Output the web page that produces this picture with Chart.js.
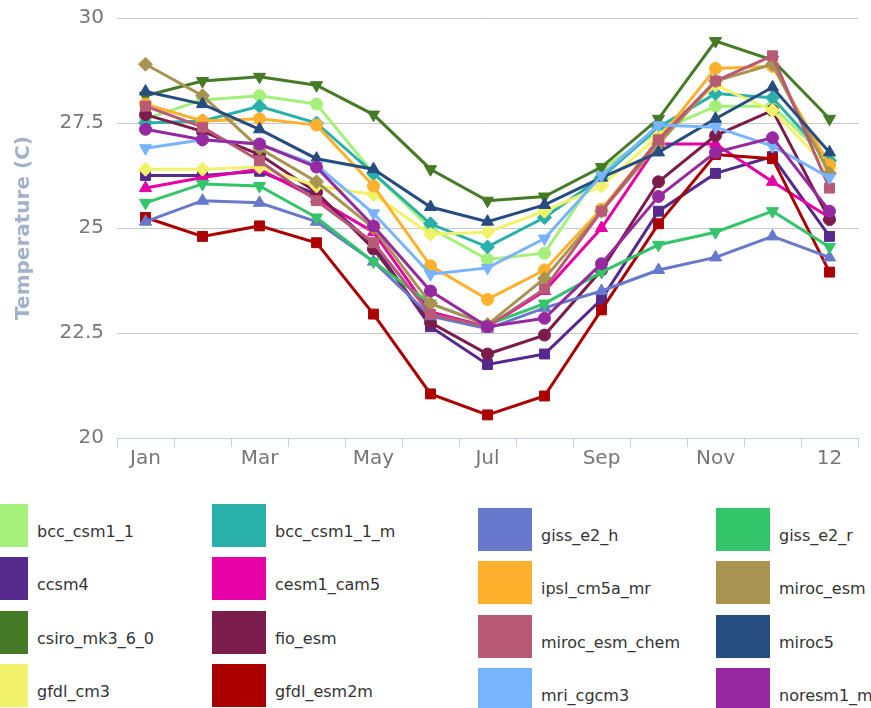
<!DOCTYPE html>
<html>
<head>
<meta charset="utf-8">
<script src="https://cdn.jsdelivr.net/npm/chart.js@4"></script>
<style>
  body { margin: 0; background: #fff; width: 871px; height: 708px; overflow: hidden; position: relative; font-family: "DejaVu Sans", Verdana, sans-serif; }
  #wrap { position: absolute; left: 0; top: 0; width: 871px; height: 490px; }
  .item { position: absolute; height: 43px; }
  .item .sw { position: absolute; left: 0; top: 0; width: 54px; height: 43px; }
  .item .tx { position: absolute; left: 63px; top: 18px; font-size: 16px; color: #333; white-space: nowrap; }
</style>
</head>
<body>
<div id="wrap"><canvas id="chart" width="871" height="490"></canvas></div>
<div id="legend"></div>
<script>
// Categories (13th point is labelled "12" in the source chart)
const months = ["Jan", "Feb", "Mar", "Apr", "May", "Jun", "Jul", "Aug", "Sep", "Oct", "Nov", "Dec", "12"];
const yTicks = [20, 22.5, 25, 27.5, 30];

const seriesNames = [
  "bcc_csm1_1", "bcc_csm1_1_m", "ccsm4", "cesm1_cam5",
  "csiro_mk3_6_0", "fio_esm", "gfdl_cm3", "gfdl_esm2m",
  "giss_e2_h", "giss_e2_r", "ipsl_cm5a_mr", "miroc_esm",
  "miroc_esm_chem", "miroc5", "mri_cgcm3", "noresm1_m"
];
const seriesColors = [
  "#a4f07a", "#2ab0aa", "#562a8c", "#e600a6",
  "#467a26", "#7c1c4c", "#f2f26a", "#aa0000",
  "#6878cc", "#34c46a", "#ffb02c", "#a89450",
  "#b85a76", "#264c80", "#78b4ff", "#9628a0"
];

// Temperature (C) per model
const bcc_csm1_1     = [27.6, 28.05, 28.15, 27.95, 26.3, 25.0, 24.25, 24.4, 26.4, 27.3, 27.9, 27.9, 26.6];
const bcc_csm1_1_m   = [27.5, 27.55, 27.9, 27.5, 26.3, 25.1, 24.55, 25.25, 26.2, 27.4, 28.2, 28.1, 26.6];
const ccsm4          = [26.25, 26.25, 26.35, 25.8, 24.6, 22.65, 21.75, 22.0, 23.3, 25.4, 26.3, 26.7, 24.8];
const cesm1_cam5     = [25.95, 26.2, 26.4, 25.7, 24.9, 23.0, 22.65, 23.5, 25.0, 27.0, 27.0, 26.1, 25.25];
const csiro_mk3_6_0  = [28.15, 28.5, 28.6, 28.4, 27.7, 26.4, 25.65, 25.75, 26.45, 27.6, 29.45, 29.0, 27.6];
const fio_esm        = [27.7, 27.3, 26.75, 25.85, 24.5, 22.75, 22.0, 22.45, 24.0, 26.1, 27.2, 27.8, 25.2];
const gfdl_cm3       = [26.4, 26.4, 26.45, 26.0, 25.8, 24.85, 24.9, 25.4, 26.0, 27.2, 28.4, 27.8, 26.4];
const gfdl_esm2m     = [25.25, 24.8, 25.05, 24.65, 22.95, 21.05, 20.55, 21.0, 23.05, 25.1, 26.75, 26.65, 23.95];
const giss_e2_h      = [25.15, 25.65, 25.6, 25.15, 24.2, 22.9, 22.6, 23.1, 23.5, 24.0, 24.3, 24.8, 24.3];
const giss_e2_r      = [25.6, 26.05, 26.0, 25.25, 24.2, 23.2, 22.7, 23.2, 23.95, 24.6, 24.9, 25.4, 24.55];
const ipsl_cm5a_mr   = [27.95, 27.55, 27.6, 27.45, 26.0, 24.1, 23.3, 24.0, 25.45, 27.1, 28.8, 28.85, 26.5];
const miroc_esm      = [28.9, 28.15, 26.9, 26.1, 25.0, 23.2, 22.7, 23.8, 25.4, 27.0, 28.5, 28.9, 26.3];
const miroc_esm_chem = [27.9, 27.4, 26.6, 25.65, 24.65, 22.95, 22.65, 23.55, 25.4, 27.1, 28.5, 29.1, 25.95];
const miroc5         = [28.25, 27.95, 27.35, 26.65, 26.4, 25.5, 25.15, 25.55, 26.2, 26.8, 27.6, 28.35, 26.8];
const mri_cgcm3      = [26.9, 27.1, 27.0, 26.5, 25.35, 23.9, 24.05, 24.75, 26.25, 27.45, 27.4, 26.95, 26.2];
const noresm1_m      = [27.35, 27.1, 27.0, 26.45, 25.05, 23.5, 22.65, 22.85, 24.15, 25.75, 26.8, 27.15, 25.4];

const seriesData = [
  bcc_csm1_1, bcc_csm1_1_m, ccsm4, cesm1_cam5,
  csiro_mk3_6_0, fio_esm, gfdl_cm3, gfdl_esm2m,
  giss_e2_h, giss_e2_r, ipsl_cm5a_mr, miroc_esm,
  miroc_esm_chem, miroc5, mri_cgcm3, noresm1_m
];

// marker cycle: circle, diamond, square, triangle, triangle-down
const markerStyles = ["circle", "rectRot", "rect", "triangle", "triangle"];
const markerRot = [0, 0, 0, 0, 180];
const markerRadius = [6, 7, 7, 7, 7];

const datasets = seriesNames.map((name, i) => {
  const m = i % 5;
  return {
    label: name,
    data: seriesData[i],
    borderColor: seriesColors[i],
    backgroundColor: seriesColors[i],
    pointBackgroundColor: seriesColors[i],
    pointBorderColor: seriesColors[i],
    pointBorderWidth: 1,
    pointStyle: markerStyles[m],
    pointRotation: markerRot[m],
    pointRadius: markerRadius[m],
    borderWidth: 3,
    tension: 0,
    fill: false,
    order: seriesNames.length - i  // later series on top
  };
});

new Chart(document.getElementById("chart"), {
  type: "line",
  data: { labels: months, datasets: datasets },
  options: {
    responsive: false,
    devicePixelRatio: 1,
    animation: false,
    layout: { padding: { top: 18, right: 13, left: 0, bottom: 0 } },
    plugins: { legend: { display: false }, tooltip: { enabled: false } },
    scales: {
      x: {
        offset: true,
        grid: { offset: true, drawOnChartArea: false, color: "#c0d0e0", tickLength: 9 },
        border: { color: "#c0d0e0", width: 1 },
        ticks: {
          autoSkip: false, maxRotation: 0, padding: 0,
          color: "#777", font: { family: "DejaVu Sans", size: 20 },
          callback: (v, i) => (i % 2 === 0 ? months[i] : "")
        },
        afterFit: s => { s.height = 52; }
      },
      y: {
        min: yTicks[0],
        max: yTicks[yTicks.length - 1],
        afterBuildTicks: s => { s.ticks = yTicks.map(v => ({ value: v })); },
        grid: { color: "#c8c8c8", drawTicks: false },
        border: { display: false },
        ticks: {
          padding: 13, color: "#777", font: { family: "DejaVu Sans", size: 20 },
          callback: v => String(v)
        },
        title: {
          display: true, text: "Temperature (C)", color: "#a3b1c9",
          font: { family: "DejaVu Sans", size: 20, weight: "bold" },
          padding: { top: 12, bottom: 0 }
        },
        afterFit: s => { s.width = 117; s.paddingTop = 0; s.paddingBottom = 0; }
      }
    }
  }
});

// HTML legend: two groups of 2 columns x 4 rows
const legend = document.getElementById("legend");
seriesNames.forEach((name, i) => {
  const group = Math.floor(i / 8);
  const k = i % 8;
  const row = Math.floor(k / 2);
  const col = k % 2;
  const div = document.createElement("div");
  div.className = "item";
  div.style.left = (group * 504 + col * 238 - 26) + "px";
  div.style.top = (504 + row * 53.3 + group * 4) + "px";
  div.innerHTML = `<div class="sw" style="background:${seriesColors[i]}"></div><div class="tx">${name}</div>`;
  legend.appendChild(div);
});
</script>
</body>
</html>
